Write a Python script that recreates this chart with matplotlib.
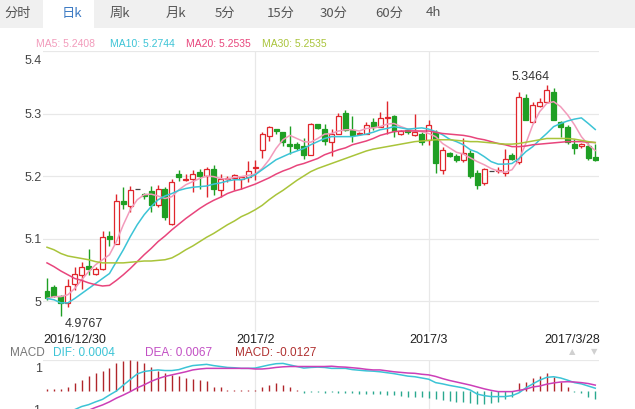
import matplotlib
matplotlib.use('Agg')
import matplotlib.pyplot as plt
import numpy as np
from matplotlib.patches import Rectangle
from matplotlib.transforms import ScaledTranslation

# ---------------- data ----------------
opens = [5.0165, 5.023, 5.008, 4.997, 5.028, 5.042, 5.056, 5.044, 5.051, 5.104,
         5.092, 5.160, 5.152, 5.1787, 5.172, 5.176, 5.154, 5.179, 5.124, 5.203,
         5.194, 5.195, 5.207, 5.200, 5.212, 5.178, 5.196, 5.1973, 5.196, 5.199,
         5.2135, 5.2416, 5.2645, 5.2746, 5.270, 5.252, 5.2507, 5.2485, 5.2336, 5.2827,
         5.275, 5.255, 5.2667, 5.3003, 5.2736, 5.2675, 5.268, 5.287, 5.279, 5.2935,
         5.2965, 5.267, 5.2736, 5.2656, 5.267, 5.257, 5.271, 5.2096, 5.2363, 5.2325,
         5.2256, 5.2363, 5.2043, 5.1883, 5.208, 5.2085, 5.2043, 5.2336, 5.223, 5.3253,
         5.2859, 5.3125, 5.318, 5.335, 5.2859, 5.279, 5.252, 5.2485, 5.2485, 5.231]
closes = [5.0043, 5.0085, 4.997, 5.024, 5.043, 5.055, 5.052, 5.051, 5.102, 5.099,
          5.160, 5.155, 5.178, 5.1787, 5.168, 5.154, 5.179, 5.135, 5.191, 5.199,
          5.195, 5.203, 5.200, 5.211, 5.179, 5.195, 5.197, 5.2016, 5.198, 5.208,
          5.215, 5.2667, 5.278, 5.272, 5.255, 5.2485, 5.2453, 5.2336, 5.284, 5.2763,
          5.2565, 5.268, 5.2965, 5.2736, 5.2656, 5.2685, 5.2816, 5.279, 5.2933, 5.2945,
          5.272, 5.2715, 5.270, 5.271, 5.255, 5.281, 5.2203, 5.2416, 5.2325, 5.2256,
          5.2363, 5.2005, 5.1856, 5.2112, 5.208, 5.2095, 5.227, 5.228, 5.327, 5.2896,
          5.3136, 5.318, 5.3376, 5.2896, 5.279, 5.2539, 5.2453, 5.2507, 5.2293, 5.2256]
highs = [5.037, 5.025, 5.009, 5.036, 5.055, 5.062, 5.084, 5.055, 5.1125, 5.112,
         5.172, 5.183, 5.184, 5.1787, 5.173, 5.184, 5.186, 5.182, 5.196, 5.210,
         5.204, 5.210, 5.212, 5.215, 5.218, 5.204, 5.200, 5.204, 5.200, 5.224,
         5.2256, 5.271, 5.280, 5.276, 5.271, 5.280, 5.254, 5.261, 5.285, 5.284,
         5.284, 5.276, 5.3003, 5.3056, 5.2965, 5.270, 5.287, 5.2923, 5.302, 5.3195,
         5.2975, 5.273, 5.275, 5.300, 5.270, 5.2896, 5.273, 5.247, 5.238, 5.236,
         5.2613, 5.2416, 5.2096, 5.213, 5.208, 5.214, 5.244, 5.237, 5.334, 5.332,
         5.319, 5.325, 5.3464, 5.341, 5.2885, 5.281, 5.2585, 5.2525, 5.2525, 5.252]
lows = [5.002, 5.006, 4.9767, 4.990, 5.017, 5.020, 5.042, 5.042, 5.049, 5.088,
        5.092, 5.148, 5.143, 5.1787, 5.163, 5.143, 5.151, 5.130, 5.122, 5.1925,
        5.1925, 5.175, 5.180, 5.167, 5.170, 5.166, 5.190, 5.178, 5.180, 5.191,
        5.1936, 5.229, 5.256, 5.268, 5.2485, 5.235, 5.2416, 5.227, 5.233, 5.276,
        5.2496, 5.2325, 5.2667, 5.2725, 5.255, 5.266, 5.268, 5.2736, 5.278, 5.268,
        5.263, 5.265, 5.268, 5.2636, 5.250, 5.2496, 5.2043, 5.204, 5.230, 5.222,
        5.223, 5.197, 5.180, 5.185, 5.208, 5.205, 5.200, 5.225, 5.220, 5.289,
        5.285, 5.311, 5.317, 5.289, 5.263, 5.252, 5.236, 5.2453, 5.2256, 5.224]

ma5 = [5.004, 5.007, 5.007, 5.010, 5.020, 5.034, 5.047, 5.058, 5.066, 5.074,
       5.095, 5.122, 5.146, 5.162, 5.170, 5.171, 5.168, 5.164, 5.167, 5.178,
       5.186, 5.191, 5.196, 5.200, 5.199, 5.196, 5.195, 5.198, 5.199, 5.201,
       5.203, 5.212, 5.226, 5.244, 5.258, 5.265, 5.260, 5.255, 5.254, 5.260,
       5.267, 5.268, 5.272, 5.274, 5.274, 5.272, 5.276, 5.277, 5.279, 5.283,
       5.284, 5.279, 5.275, 5.272, 5.271, 5.268, 5.263, 5.252, 5.245, 5.238,
       5.235, 5.229, 5.223, 5.218, 5.212, 5.208, 5.206, 5.210, 5.226, 5.252,
       5.282, 5.303, 5.316, 5.319, 5.311, 5.298, 5.282, 5.263, 5.250, 5.2408]
ma10 = [5.004, 5.002, 4.997, 4.997, 5.004, 5.012, 5.020, 5.028, 5.036, 5.044,
        5.063, 5.082, 5.103, 5.122, 5.138, 5.151, 5.162, 5.168, 5.172, 5.177,
        5.180, 5.182, 5.183, 5.184, 5.187, 5.189, 5.192, 5.194, 5.194, 5.197,
        5.202, 5.210, 5.218, 5.226, 5.231, 5.236, 5.240, 5.244, 5.250, 5.255,
        5.260, 5.263, 5.263, 5.263, 5.263, 5.265, 5.267, 5.270, 5.274, 5.276,
        5.279, 5.277, 5.275, 5.276, 5.277, 5.275, 5.271, 5.266, 5.259, 5.255,
        5.250, 5.242, 5.238, 5.231, 5.223, 5.219, 5.219, 5.220, 5.228, 5.239,
        5.247, 5.258, 5.268, 5.279, 5.284, 5.288, 5.291, 5.293, 5.284, 5.2744]
ma20 = [5.061, 5.055, 5.048, 5.042, 5.036, 5.033, 5.029, 5.026, 5.024, 5.025,
        5.033, 5.042, 5.052, 5.063, 5.074, 5.084, 5.095, 5.104, 5.114, 5.123,
        5.132, 5.140, 5.148, 5.155, 5.161, 5.166, 5.172, 5.176, 5.179, 5.183,
        5.187, 5.192, 5.197, 5.203, 5.208, 5.212, 5.217, 5.220, 5.224, 5.228,
        5.234, 5.238, 5.242, 5.245, 5.250, 5.253, 5.256, 5.260, 5.265, 5.268,
        5.271, 5.272, 5.272, 5.272, 5.272, 5.272, 5.270, 5.268, 5.267, 5.266,
        5.265, 5.263, 5.260, 5.258, 5.255, 5.252, 5.250, 5.247, 5.247, 5.248,
        5.250, 5.251, 5.252, 5.253, 5.254, 5.255, 5.255, 5.255, 5.254, 5.2535]
ma30 = [5.086, 5.082, 5.076, 5.072, 5.070, 5.068, 5.066, 5.063, 5.061, 5.061,
        5.061, 5.061, 5.062, 5.063, 5.064, 5.064, 5.065, 5.066, 5.069, 5.075,
        5.082, 5.088, 5.095, 5.102, 5.108, 5.115, 5.122, 5.128, 5.135, 5.140,
        5.146, 5.153, 5.162, 5.170, 5.177, 5.185, 5.193, 5.200, 5.207, 5.212,
        5.216, 5.220, 5.224, 5.228, 5.232, 5.236, 5.240, 5.243, 5.245, 5.247,
        5.249, 5.251, 5.253, 5.255, 5.256, 5.257, 5.258, 5.258, 5.258, 5.257,
        5.256, 5.255, 5.255, 5.254, 5.253, 5.252, 5.251, 5.251, 5.252, 5.254,
        5.256, 5.258, 5.260, 5.260, 5.260, 5.260, 5.259, 5.257, 5.255, 5.2535]

macd_hist = [0.05, 0.05, 0.06, 0.14, 0.25, 0.35, 0.48, 0.57, 0.66, 0.73,
             0.89, 0.98, 1.00, 0.98, 0.89, 0.76, 0.66, 0.57, 0.52, 0.50,
             0.41, 0.38, 0.34, 0.31, 0.14, 0.12, 0.03, 0.02, 0.03, 0.02,
             0.04, 0.14, 0.19, 0.25, 0.19, 0.12, 0.03, -0.05, -0.04, -0.03,
             -0.05, -0.04, -0.05, -0.06, -0.08, -0.09, -0.10, -0.10, -0.10, -0.13,
             -0.13, -0.15, -0.18, -0.18, -0.20, -0.23, -0.26, -0.29, -0.31, -0.34,
             -0.37, -0.39, -0.42, -0.42, -0.39, -0.34, -0.26, -0.18, 0.25, 0.30,
             0.41, 0.48, 0.59, 0.46, 0.30, 0.14, -0.03, -0.08, -0.18, -0.26]
dif = [-1.00, -0.95, -0.85, -0.70, -0.60, -0.50, -0.44, -0.35, -0.27, -0.13,
       0.00, 0.19, 0.37, 0.55, 0.63, 0.66, 0.68, 0.66, 0.66, 0.69,
       0.76, 0.82, 0.84, 0.86, 0.82, 0.79, 0.76, 0.75, 0.73, 0.73,
       0.74, 0.79, 0.84, 0.88, 0.89, 0.84, 0.79, 0.74, 0.76, 0.77,
       0.76, 0.73, 0.73, 0.73, 0.69, 0.67, 0.65, 0.64, 0.62, 0.59,
       0.56, 0.52, 0.48, 0.46, 0.42, 0.38, 0.27, 0.23, 0.18, 0.14,
       0.10, 0.03, -0.10, -0.15, -0.18, -0.18, -0.18, -0.15, -0.06, 0.10,
       0.23, 0.35, 0.44, 0.46, 0.42, 0.35, 0.27, 0.23, 0.16, 0.09]
dea = [-1.25, -1.18, -1.10, -0.98, -0.86, -0.74, -0.62, -0.53, -0.45, -0.35,
       -0.23, -0.13, -0.02, 0.10, 0.20, 0.31, 0.40, 0.47, 0.52, 0.57,
       0.62, 0.68, 0.71, 0.73, 0.73, 0.73, 0.73, 0.73, 0.73, 0.73,
       0.71, 0.71, 0.73, 0.76, 0.78, 0.79, 0.79, 0.79, 0.79, 0.79,
       0.79, 0.80, 0.78, 0.77, 0.75, 0.73, 0.70, 0.68, 0.68, 0.65,
       0.62, 0.60, 0.58, 0.57, 0.54, 0.52, 0.47, 0.40, 0.34, 0.29,
       0.24, 0.19, 0.13, 0.07, 0.02, -0.02, -0.02, -0.02, 0.02, 0.06,
       0.13, 0.16, 0.22, 0.26, 0.29, 0.30, 0.29, 0.27, 0.24, 0.19]

date_ticks = [4, 30, 55, 79]
date_labels = ['2016/12/30', '2017/2', '2017/3', '2017/3/28']
price_ticks = [5.0, 5.1, 5.2, 5.3, 5.4]
price_labels = ['5', '5.1', '5.2', '5.3', '5.4']
tab_labels = ['分时', '日k', '周k', '月k', '5分', '15分', '30分', '60分', '4h']
ma_legend = ['MA5: 5.2408', 'MA10: 5.2744', 'MA20: 5.2535', 'MA30: 5.2535']
macd_legend = ['MACD', 'DIF: 0.0004', 'DEA: 0.0067', 'MACD: -0.0127']
high_label = '5.3464'
low_label = '4.9767'

# ---------------- style ----------------
W, H = 635, 409
RED = '#e0262c'
GREEN = '#1f9f24'
DOJI = '#444444'
C_MA5 = '#f29bbb'
C_MA10 = '#3cc4d6'
C_MA20 = '#e8457c'
C_MA30 = '#a9c43a'
C_DIF = '#3cc4d6'
C_DEA = '#cc3fb8'
C_HUP = '#b0252a'
C_HDN = '#2aa98f'
GRID = '#e8e8e8'
NUM_FONT = ['Liberation Sans', 'DejaVu Sans']
CJK_FONT = ['Noto Sans CJK SC', 'DejaVu Sans']

fig = plt.figure(figsize=(W / 100, H / 100), dpi=100)
fig.patch.set_facecolor('white')


def fx(x):
    return x / W


def fy(y):
    return 1 - y / H


# ---------------- tab bar ----------------
fig.patches.append(Rectangle((0, fy(28)), 1, 28 / H, transform=fig.transFigure,
                             facecolor='#f0f0f0', edgecolor='none', zorder=0))
fig.patches.append(Rectangle((fx(43), fy(28)), 51 / W, 28 / H, transform=fig.transFigure,
                             facecolor='white', edgecolor='none', zorder=1))
tab_x = [18, 72, 120, 176, 225, 281, 334, 389, 433]
for lab, tx in zip(tab_labels, tab_x):
    col = '#3f7cc4' if lab == '日k' else '#555555'
    fig.text(fx(tx), fy(13), lab, ha='center', va='center', fontsize=9.5,
             family=CJK_FONT, color=col)

# MA legend
ma_cols = [C_MA5, C_MA10, C_MA20, C_MA30]
ma_lx = [36, 110, 186, 262]
for s, c, lx in zip(ma_legend, ma_cols, ma_lx):
    fig.text(fx(lx), fy(44), s, ha='left', va='center', fontsize=7.5,
             family=NUM_FONT, color=c)

# ---------------- main axes ----------------
x0_px, dx_px = 47.0, 6.94
left_i = (43 - x0_px) / dx_px
right_i = (599 - x0_px) / dx_px

ax = fig.add_axes([fx(43), fy(332), (599 - 43) / W, (332 - 51) / H])
ax.set_xlim(left_i, right_i)
ax.set_ylim(5.2 - (332 - 176) / 625, 5.4)
for s in ax.spines.values():
    s.set_visible(False)
for yv in price_ticks:
    ax.axhline(yv, color=GRID, lw=0.9, zorder=0)
for xv in date_ticks[1:3]:
    ax.axvline(xv, color=GRID, lw=0.9, zorder=0)

x = np.arange(len(opens))
o = np.array(opens); c = np.array(closes); hi = np.array(highs); lo = np.array(lows)
cols = [RED if cc > oo else (GREEN if cc < oo else DOJI) for oo, cc in zip(o, c)]
ax.vlines(x, lo, hi, colors=cols, lw=1.0, zorder=2)
body_h = np.maximum(np.abs(c - o), 0.0006)
face = ['white' if col == RED else col for col in cols]
ax.bar(x, body_h, bottom=np.minimum(o, c), width=0.72, color=face,
       edgecolor=cols, linewidth=0.9, zorder=3)

for vals, col in zip([ma5, ma10, ma20, ma30], ma_cols):
    ax.plot(x, vals, color=col, lw=1.1, zorder=4)

ax.set_yticks(price_ticks)
ax.set_yticklabels(price_labels, family=NUM_FONT, fontsize=9, color='#444444')
ax.tick_params(axis='y', length=0, pad=1)
ylabels = ax.get_yticklabels()
ylabels[-1].set_transform(ylabels[-1].get_transform() +
                          ScaledTranslation(0, -8 / 100, fig.dpi_scale_trans))

ax.set_xticks(date_ticks)
ax.set_xticklabels(date_labels, family=NUM_FONT, fontsize=9, color='#222222')
ax.tick_params(axis='x', length=0, pad=1.5)
xl = ax.get_xticklabels()
xl[-1].set_ha('right')
xl[-1].set_transform(xl[-1].get_transform() + ScaledTranslation(5 / 100, 0, fig.dpi_scale_trans))

imax = int(np.argmax(hi)); imin = int(np.argmin(lo))
ax.annotate(high_label, (x[imax], hi[imax]), xytext=(3, 2), textcoords='offset pixels',
            ha='right', va='bottom', fontsize=9, family=NUM_FONT, color='#333333')
ax.annotate(low_label, (x[imin], lo[imin]), xytext=(4, -2), textcoords='offset pixels',
            ha='left', va='top', fontsize=9, family=NUM_FONT, color='#333333')

# ---------------- MACD axes ----------------
mx = fig.add_axes([fx(43), fy(422), (599 - 43) / W, (422 - 360) / H])
mx.set_xlim(left_i, right_i)
mx.set_ylim(-1, 1)
for s in mx.spines.values():
    s.set_visible(False)
mx.axhline(1, color=GRID, lw=0.9, zorder=0)
for xv in date_ticks[1:3]:
    mx.axvline(xv, color=GRID, lw=0.9, zorder=0)
hcol = [C_HUP if v > 0 else C_HDN for v in macd_hist]
mx.vlines(x, 0, macd_hist, colors=hcol, lw=1.0, zorder=2)
mx.plot(x, dif, color=C_DIF, lw=1.1, zorder=3)
mx.plot(x, dea, color=C_DEA, lw=1.1, zorder=3)
mx.set_xticks([])
mx.set_yticks([1, -1])
mx.set_yticklabels(['1', '-1'], family=NUM_FONT, fontsize=9, color='#444444')
mx.tick_params(axis='y', length=0, pad=1)
ml = mx.get_yticklabels()
ml[0].set_transform(ml[0].get_transform() + ScaledTranslation(0, -8 / 100, fig.dpi_scale_trans))
ml[1].set_transform(ml[1].get_transform() + ScaledTranslation(0, 13 / 100, fig.dpi_scale_trans))

macd_cols = ['#777777', C_DIF, '#c24fc4', '#b03030']
macd_lx = [10, 53, 145, 235]
for s, col, lx in zip(macd_legend, macd_cols, macd_lx):
    fig.text(fx(lx), fy(352.5), s, ha='left', va='center', fontsize=8.5,
             family=NUM_FONT, color=col)

fig.text(fx(572), fy(352), '▲', ha='center', va='center', fontsize=6,
         family=['DejaVu Sans'], color='#d0d0d0')
fig.text(fx(594), fy(352), '▼', ha='center', va='center', fontsize=6,
         family=['DejaVu Sans'], color='#d0d0d0')

fig.savefig('out.png', dpi=100)
